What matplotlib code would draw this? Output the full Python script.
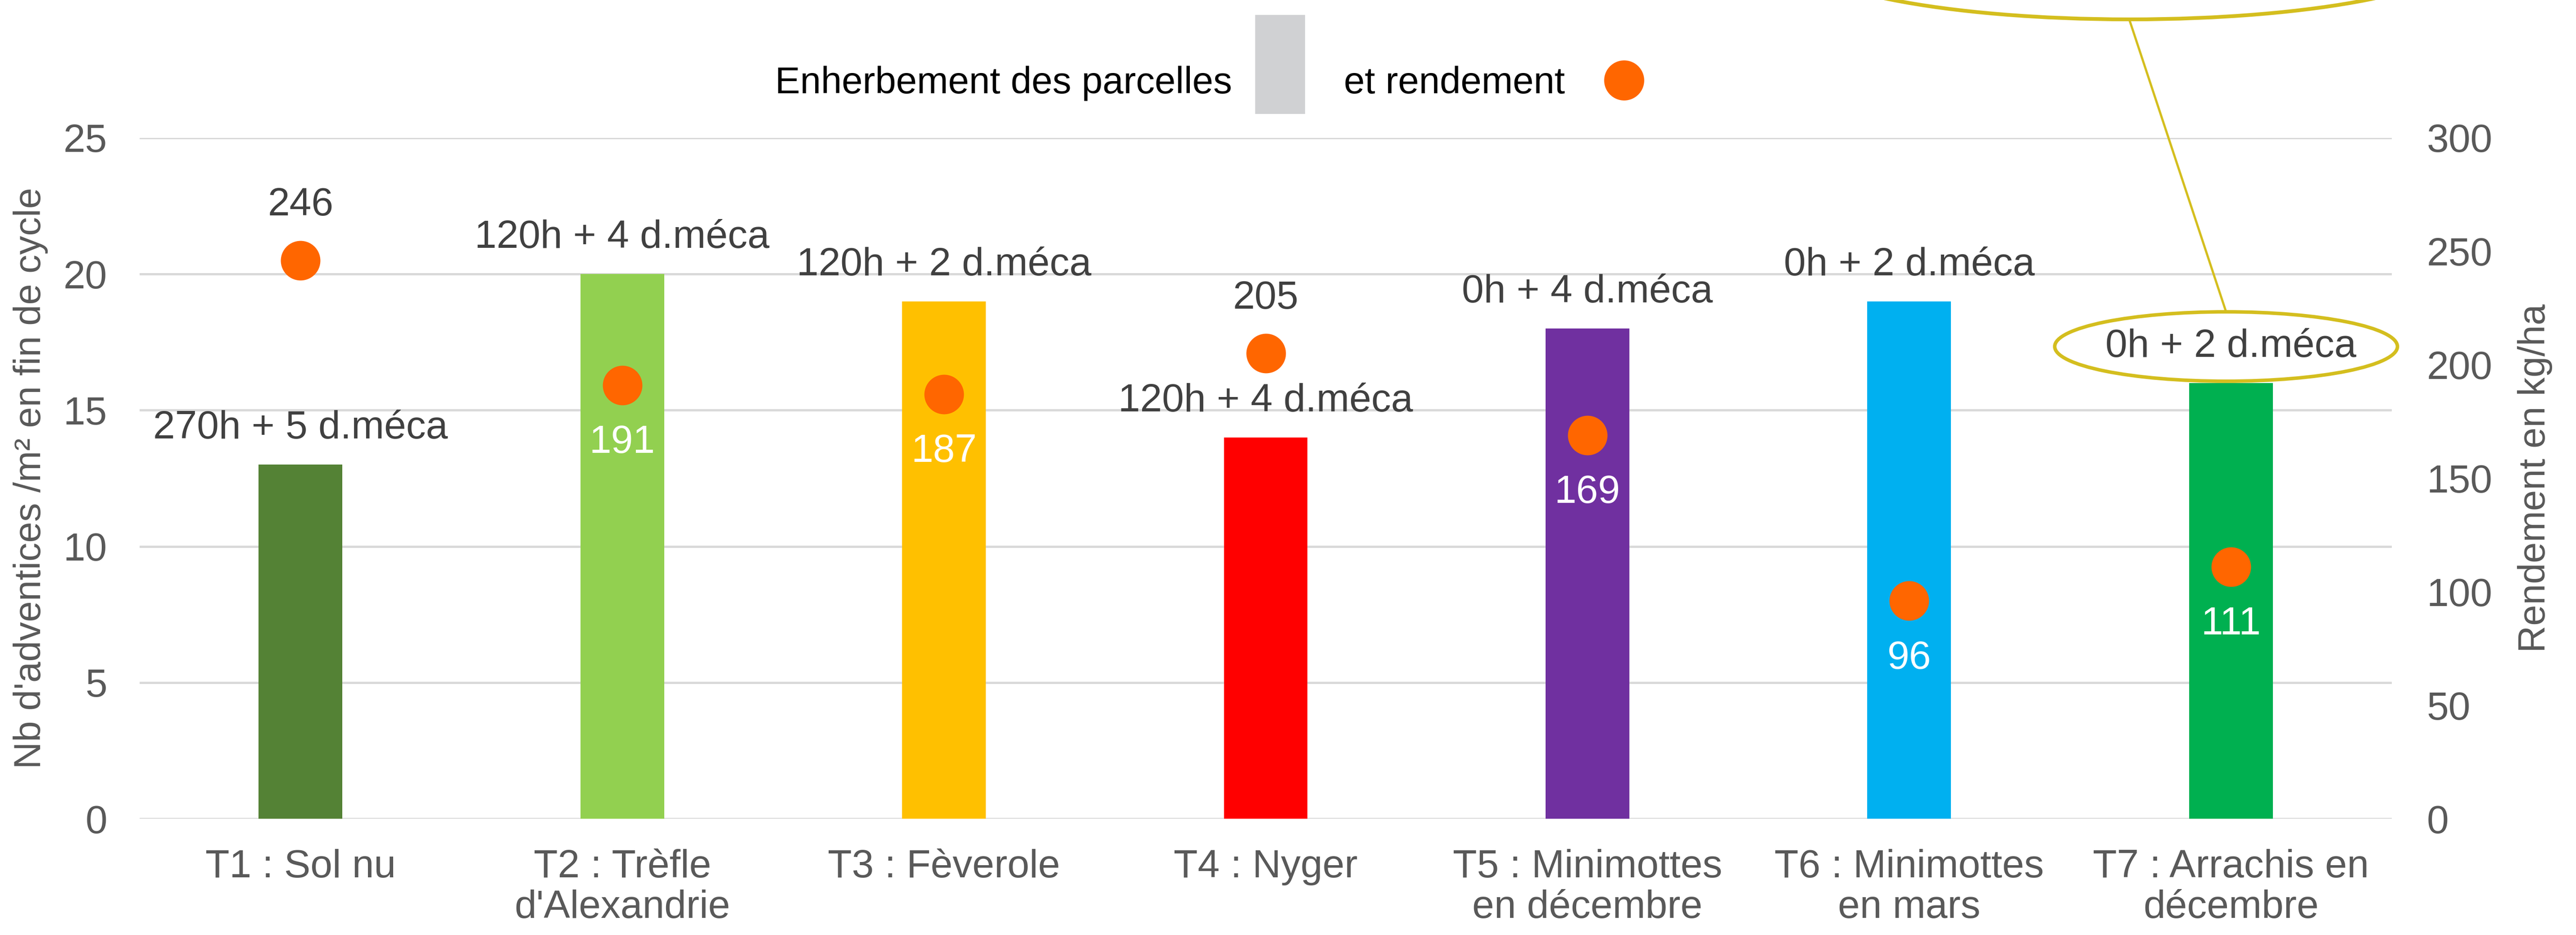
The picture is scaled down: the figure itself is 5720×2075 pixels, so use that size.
import matplotlib
matplotlib.use("Agg")
import matplotlib.pyplot as plt
from matplotlib.patches import Ellipse, Rectangle
from matplotlib.lines import Line2D

# donnees
categories = ["T1 : Sol nu", "T2 : Trèfle\nd'Alexandrie", "T3 : Fèverole", "T4 : Nyger",
              "T5 : Minimottes\nen décembre", "T6 : Minimottes\nen mars", "T7 : Arrachis en\ndécembre"]
adventices = [13, 20, 19, 14, 18, 19, 16]
rendement = [246, 191, 187, 205, 169, 96, 111]
desherbage = ["270h + 5 d.méca", "120h + 4 d.méca", "120h + 2 d.méca", "120h + 4 d.méca",
              "0h + 4 d.méca", "0h + 2 d.méca", "0h + 2 d.méca"]
couleurs = ["#548235", "#92D050", "#FFC000", "#FF0000", "#7030A0", "#00B0F0", "#00B050"]
label_dessus = [True, False, False, True, False, False, False]

W, H = 5720, 2075
DPI = 200
ORANGE = "#FF6600"
GRIS = "#595959"
FONCE = "#404040"
OR = "#D4BE1E"
ARIAL = ["Liberation Sans", "DejaVu Sans"]
NARROW = ["Liberation Sans Narrow", "Liberation Sans", "DejaVu Sans"]
FS = 31.5

plt.rcParams['font.family'] = ARIAL

fig = plt.figure(figsize=(W / DPI, H / DPI), dpi=DPI)
ax = fig.add_axes([310 / W, 1 - 1817 / H, (5311 - 310) / W, (1817 - 306) / H])
ax2 = ax.twinx()

x = list(range(len(categories)))
ax.bar(x, adventices, width=0.26, color=couleurs, zorder=2)
ax.set_xlim(-0.5, len(categories) - 0.5)
ax.set_ylim(0, 25)
ax.set_yticks([0, 5, 10, 15, 20, 25])
ax.yaxis.grid(True, color="#D9D9D9", linewidth=1.8, zorder=0)
ax.set_axisbelow(True)
for s in ax.spines.values():
    s.set_visible(False)
for s in ax2.spines.values():
    s.set_visible(False)
ax.tick_params(axis="both", length=0, labelsize=FS, labelcolor=GRIS)
ax.tick_params(axis="x", pad=24)
ax.tick_params(axis="y", pad=26)
ax.set_xticks(x)
ax.set_xticklabels(categories, linespacing=1.15)
ax.set_ylabel("Nb d'adventices /m² en fin de cycle", fontsize=30, color=GRIS,
              family=NARROW, labelpad=12)

# etiquettes au-dessus des barres
for i, (v, t) in enumerate(zip(adventices, desherbage)):
    ax.annotate(t, (i, v), xytext=(0, 29), textcoords="offset points",
                ha="center", va="center", fontsize=FS, color=FONCE, zorder=5)

# rendement sur l'axe de droite
ax2.set_ylim(0, 300)
ax2.set_yticks([0, 50, 100, 150, 200, 250, 300])
ax2.tick_params(axis="y", length=0, labelsize=FS, labelcolor=GRIS, pad=28)
ax2.scatter(x, rendement, s=1000, color=ORANGE, zorder=4, linewidths=0)
for i, (r, dessus) in enumerate(zip(rendement, label_dessus)):
    dy = 44 if dessus else -46
    ax2.annotate(str(r), (i, r), xytext=(0, dy), textcoords="offset points",
                 ha="center", va="center", fontsize=FS,
                 color=FONCE if dessus else "white", zorder=5)
ax2.set_ylabel("Rendement en kg/ha", fontsize=30, color=GRIS, family=NARROW, labelpad=20)

# legende construite a la main
fig.text(2736 / W, 1 - 185 / H, "Enherbement des parcelles", ha="right", va="center",
         fontsize=30, color="black", family=NARROW)
fig.add_artist(Rectangle((2788 / W, 1 - 251 / H), 108 / W, 217 / H,
                         transform=fig.transFigure, color="#D0D1D3"))
fig.text(2984 / W, 1 - 185 / H, "et rendement", ha="left", va="center",
         fontsize=30, color="black", family=NARROW)
fig.add_artist(Line2D([3606 / W], [1 - 178 / H], marker="o", markersize=32,
                      color=ORANGE, markeredgewidth=0, transform=fig.transFigure))

# ellipses de mise en evidence
fig.add_artist(Ellipse((4943 / W, 1 - 769 / H), 761 / W, 154 / H, transform=fig.transFigure,
                       fill=False, edgecolor=OR, linewidth=2.8, zorder=6))
fig.add_artist(Ellipse((4729 / W, 1 + 107 / H), 1500 / W, 300 / H, transform=fig.transFigure,
                       fill=False, edgecolor=OR, linewidth=3.0, zorder=6))
fig.add_artist(Line2D([4729 / W, 4943 / W], [1 - 46 / H, 1 - 692 / H],
                      color=OR, linewidth=1.8, transform=fig.transFigure, zorder=6))

fig.savefig("out.png", dpi=DPI)
